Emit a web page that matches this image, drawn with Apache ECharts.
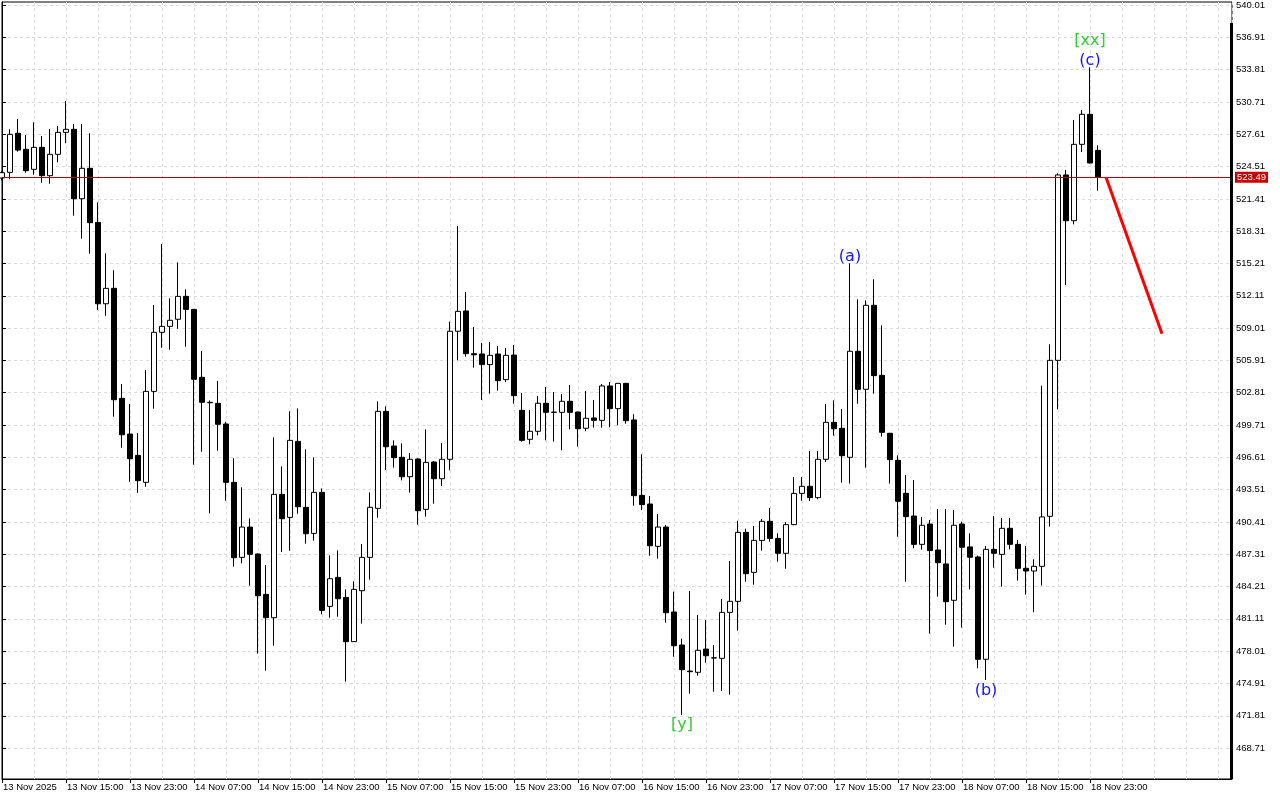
<!DOCTYPE html>
<html><head><meta charset="utf-8">
<script src="https://cdn.jsdelivr.net/npm/echarts@6/dist/echarts.min.js"></script>
<style>html,body{margin:0;padding:0;background:#fff}#c{width:1280px;height:800px}</style>
</head><body><div id="c"></div>
<script>
// ---- data (hourly bars, 13 Nov 2025 07:00 onward) ----
const openP = [523.42,523.96,527.71,526.17,524.25,526.36,523.64,525.69,527.80,528.09,
521.43,524.35,519.16,511.35,512.83,502.27,498.85,496.80,494.21,502.94,
508.61,509.18,509.86,512.06,510.81,504.29,501.89,501.79,499.81,494.21,
487.01,489.92,487.33,483.46,481.22,493.06,490.85,498.14,491.81,489.31,
493.25,482.31,485.09,483.17,478.92,483.81,487.01,491.71,501.02,497.70,
496.61,494.75,496.45,491.62,496.16,494.56,496.42,508.71,510.66,506.56,
506.53,505.51,506.53,504.07,506.43,501.12,498.34,499.11,501.80,500.93,
500.93,501.99,500.96,499.40,500.39,500.16,503.46,501.28,503.71,500.20,
492.96,492.13,488.07,489.92,481.77,478.60,476.10,475.98,478.21,477.35,
477.32,481.73,482.79,489.41,485.57,488.64,490.47,488.83,487.40,490.15,
493.15,493.83,492.74,496.42,499.97,499.40,496.61,506.79,503.14,511.20,
504.48,498.92,496.32,493.16,490.98,488.26,490.21,487.72,486.38,482.89,
490.21,488.01,487.05,477.23,487.78,487.30,489.80,488.26,485.96,485.70,
486.15,490.95,505.92,523.71,519.32,526.65,529.53,526.07];
const closeP = [523.93,527.61,526.10,524.12,526.36,523.64,525.69,527.80,528.09,521.43,
524.35,519.13,511.35,512.83,502.14,498.78,496.48,494.37,502.94,508.61,
509.18,509.76,512.06,510.81,504.10,501.89,501.85,499.78,494.21,486.98,
489.92,487.30,483.33,481.22,493.06,490.72,498.24,491.87,489.28,493.25,
481.92,484.96,483.04,478.92,483.94,487.01,491.81,501.02,497.63,496.58,
494.75,496.42,491.49,496.13,494.56,496.42,508.71,510.62,506.56,506.45,
505.51,506.40,503.97,506.40,502.53,498.24,499.11,501.80,500.93,500.95,
501.99,500.93,499.36,500.36,500.16,503.46,501.28,503.71,500.13,492.93,
492.07,488.13,489.92,481.70,478.53,476.23,476.04,478.09,477.57,477.37,
481.73,482.79,489.41,485.44,488.64,490.47,488.83,487.40,490.15,493.15,
493.83,492.74,496.42,499.97,499.36,496.77,506.79,503.14,511.20,504.45,
499.01,496.39,492.39,490.92,488.26,490.09,487.66,486.50,482.76,490.09,
487.98,487.02,477.23,487.78,487.40,489.80,488.26,485.96,485.70,486.15,
490.89,505.92,523.71,519.32,526.65,529.53,524.86,523.49];
const lowP = [523.20,523.29,525.95,523.93,523.73,522.97,522.87,524.92,526.75,519.80,
517.59,516.15,510.75,510.20,500.51,497.53,494.27,493.21,493.79,501.28,
507.13,506.94,508.95,507.23,495.90,497.15,491.24,497.25,492.45,486.12,
486.44,484.29,477.77,476.13,478.53,487.52,487.65,491.20,488.32,488.61,
481.54,481.22,481.32,475.08,478.90,480.65,484.87,490.82,495.39,495.62,
494.40,493.22,490.15,490.91,492.16,493.86,495.37,505.92,506.27,505.22,
502.12,502.72,503.01,503.84,501.76,498.12,497.86,498.72,498.24,498.12,
497.28,499.30,497.64,499.11,499.46,499.46,499.49,499.68,499.84,491.97,
491.55,487.17,486.88,480.74,477.48,471.88,473.93,475.66,476.90,474.12,
474.18,473.83,479.97,484.68,484.39,487.65,488.52,486.60,485.92,490.10,
492.45,492.42,492.58,496.16,498.69,494.18,494.09,501.76,495.62,502.72,
498.60,494.09,488.99,484.68,487.88,487.75,479.69,483.24,480.55,478.44,
480.27,483.94,476.36,475.24,486.02,484.20,487.78,484.78,483.43,481.74,
484.30,489.96,501.22,513.15,518.97,525.91,524.80,522.20];
const highP = [524.10,528.09,529.08,527.54,528.76,527.45,528.12,528.41,530.81,528.60,
528.60,527.71,521.08,516.19,514.56,503.65,501.73,498.94,505.00,511.23,
517.08,511.87,515.32,512.73,510.85,506.81,502.08,503.93,500.03,496.52,
493.73,490.75,487.40,486.28,498.53,495.74,501.02,501.31,497.38,496.61,
493.63,487.20,487.68,483.94,484.71,488.29,493.25,501.98,501.50,498.24,
497.95,497.03,496.50,499.30,496.26,497.98,509.63,518.81,512.48,509.12,
507.59,507.68,507.30,507.11,507.39,502.79,501.16,502.50,503.36,502.88,
502.69,503.56,501.00,502.98,502.12,503.65,503.84,503.75,503.75,500.74,
496.90,492.90,491.17,490.11,483.72,479.21,483.78,481.48,481.00,478.60,
483.01,486.66,490.53,489.76,490.02,490.69,491.75,489.32,490.40,494.72,
494.72,497.22,497.22,501.73,502.08,501.25,515.23,511.78,511.68,513.70,
509.28,498.95,496.80,494.92,494.44,490.89,490.60,491.65,491.65,491.56,
490.44,489.32,487.18,488.10,490.98,490.79,490.79,488.68,488.10,486.82,
503.49,507.46,523.87,524.19,528.98,529.94,534.04,526.55];

const timeTickBars = [0,8,16,24,32,40,48,56,64,72,80,88,96,104,112,120,128,136];
const timeTickLabels = ['13 Nov 2025','13 Nov 15:00','13 Nov 23:00','14 Nov 07:00','14 Nov 15:00',
'14 Nov 23:00','15 Nov 07:00','15 Nov 15:00','15 Nov 23:00','16 Nov 07:00','16 Nov 15:00',
'16 Nov 23:00','17 Nov 07:00','17 Nov 15:00','17 Nov 23:00','18 Nov 07:00','18 Nov 15:00','18 Nov 23:00'];
const priceTicks = [468.71,471.81,474.91,478.01,481.11,484.21,487.31,490.41,493.51,496.61,
499.71,502.81,505.91,509.01,512.11,515.21,518.31,521.41,524.51,527.61,530.71,533.81,536.91,540.01];
const lastPrice = 523.49;
const forecastBars = [138, 145];
const forecastPrices = [523.49, 508.47];
const blueWaveText = ['(a)','(b)','(c)'];
const blueWaveBar = [106,123,136];
const blueWaveAt = ['high','low','high'];
const greenWaveText = ['[xx]','[y]'];
const greenWaveBar = [136,85];
const greenWaveAt = ['high','low'];

// ---- chart ----
const FONT = 'Liberation Sans';
const candleData = openP.map((o,i)=>[i,o,closeP[i],lowP[i],highP[i]]);
function waveItems(texts, bars, ats, topDist, botDist){
  return texts.map((t,i)=>{
    const b = bars[i], isHigh = ats[i]==='high';
    return {name:t, value:[b, isHigh?highP[b]:lowP[b]],
      label:{position: isHigh?'top':'bottom', distance: isHigh?topDist:botDist}};
  });
}
const chart = echarts.init(document.getElementById('c'), null, {renderer:'canvas'});
const xMax = 153.75;
chart.setOption({
  animation:false,
  backgroundColor:'#fff',
  grid:{left:2, right:48, top:2, bottom:21, show:true, borderColor:'#000', borderWidth:1, backgroundColor:'#fff'},
  xAxis:[{
    type:'value', min:0, max:xMax, position:'bottom',
    axisLine:{show:true, lineStyle:{color:'#000', width:1}},
    axisTick:{show:true, length:4, customValues:timeTickBars, lineStyle:{color:'#000'}},
    axisLabel:{show:true, customValues:timeTickBars, align:'left', margin:3, padding:[0,0,0,1],
      color:'#000', fontFamily:FONT, fontSize:9.5,
      formatter:(v)=>{const i=timeTickBars.indexOf(Math.round(v)); return i>=0?timeTickLabels[i]:'';}},
    splitLine:{show:false}
  },{
    type:'value', min:0, max:xMax, interval:4, position:'bottom',
    axisLine:{show:false}, axisTick:{show:false}, axisLabel:{show:false},
    splitLine:{show:true, lineStyle:{color:'#dcdcdc', type:[3,3], width:1}}
  }],
  yAxis:{
    type:'value', position:'right', min:465.74, max:540.31,
    axisLine:{show:true, lineStyle:{color:'#000', width:1}},
    axisTick:{show:true, length:4, customValues:priceTicks, lineStyle:{color:'#000'}},
    axisLabel:{show:true, customValues:priceTicks, margin:4, color:'#000', fontFamily:FONT, fontSize:9.5,
      formatter:(v)=>v.toFixed(2)},
    splitLine:{show:true, lineStyle:{color:'#dcdcdc', type:[3,3], width:1}}
  },
  graphic:[{type:'rect', shape:{x:1230, y:23, width:3, height:756}, style:{fill:'#000'}, z:100}],
  series:[{
    type:'candlestick', xAxisIndex:0, data:candleData, barWidth:5,
    itemStyle:{color:'#ffffff', color0:'#000000', borderColor:'#000', borderColor0:'#000', borderColorDoji:'#000', borderWidth:1},
    markLine:{silent:true, symbol:'none', animation:false,
      data:[{yAxis:lastPrice}],
      lineStyle:{color:'#b00000', width:1, type:'solid'},
      label:{show:true, position:'end', distance:3, formatter:lastPrice.toFixed(2), color:'#fff',
        backgroundColor:'#c80000', padding:[1,2,0,2], fontFamily:FONT, fontSize:9.5}}
  },{
    type:'line', xAxisIndex:0, data:forecastBars.map((b,i)=>[b,forecastPrices[i]]),
    symbol:'none', lineStyle:{color:'#ff0000', width:3}, z:5
  },{
    type:'scatter', xAxisIndex:0, symbolSize:0, z:6, itemStyle:{opacity:1},
    data:waveItems(blueWaveText, blueWaveBar, blueWaveAt, -2, 3),
    label:{show:true, formatter:'{b}', color:'#1414ff', opacity:1, fontFamily:'DejaVu Sans', fontSize:16}
  },{
    type:'scatter', xAxisIndex:0, symbolSize:0, z:6, itemStyle:{opacity:1},
    data:waveItems(greenWaveText, greenWaveBar, greenWaveAt, 18, 2),
    label:{show:true, formatter:'{b}', color:'#33cc33', opacity:1, fontFamily:'DejaVu Sans', fontSize:16}
  }]
});
</script></body></html>
